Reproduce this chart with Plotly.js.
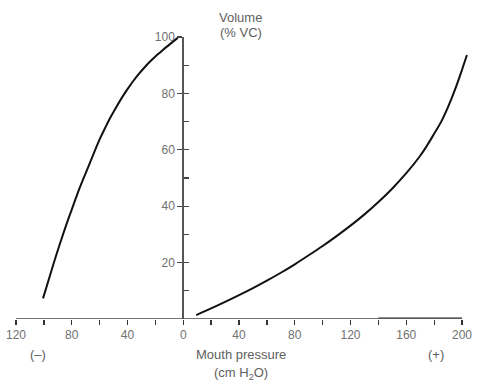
<!DOCTYPE html>
<html>
<head>
<meta charset="utf-8">
<script src="https://cdn.plot.ly/plotly-3.0.1.min.js"></script>
<style>html,body{margin:0;padding:0;background:#fff;}#chart{width:500px;height:384px;}</style>
</head>
<body>
<div id="chart"></div>
<script>
// Left curve: negative mouth pressure (cm H2O), volume (% VC)
var negPressure = [-100.6, -96, -92, -88, -84, -80, -76, -72, -68, -64, -60, -56, -52, -48, -44, -40, -36, -32, -28, -24, -20, -16, -12, -8, -4];
var negVolume   = [7.3, 14.8, 21.3, 27.4, 33.3, 38.8, 44.3, 49.3, 54.1, 59.0, 63.7, 67.8, 71.7, 75.2, 78.5, 81.5, 84.3, 86.8, 89.1, 91.2, 93.1, 94.8, 96.5, 98.1, 99.7];
// Right curve: positive mouth pressure, volume (% VC)
var posPressure = [9.3, 20, 30, 40, 50, 60, 70, 80, 90, 100, 110, 120, 130, 140, 150, 160, 170, 175, 180, 185, 190, 195, 200, 203.5];
var posVolume   = [1.4, 3.75, 6.05, 8.45, 10.95, 13.6, 16.4, 19.4, 22.6, 25.9, 29.4, 33.1, 37.1, 41.5, 46.3, 51.7, 57.9, 61.6, 65.7, 69.9, 75.2, 81.4, 88.4, 93.6];
// Short segment drawn along the axis at high positive pressure
var segPressure = [140, 200];
var segVolume   = [0.35, 0.35];

var xTickVals = [-120, -80, -40, 0, 40, 80, 120, 160, 200];
var xTickText = ['120', '80', '40', '0', '40', '80', '120', '160', '200'];
var xMinorVals = [-100, -60, -20, 20, 60, 100, 140, 180];
var yTickVals = [20, 40, 60, 80, 100];
var yTickText = ['20', '40', '60', '80', '100'];

var traces = [
  {x: negPressure, y: negVolume, mode: 'lines', line: {color: '#111', width: 2, shape: 'spline', smoothing: 1}, hoverinfo: 'skip'},
  {x: posPressure, y: posVolume, mode: 'lines', line: {color: '#111', width: 2, shape: 'spline', smoothing: 1}, hoverinfo: 'skip'},
  {x: segPressure, y: segVolume, mode: 'lines', line: {color: '#222', width: 1.2}, cliponaxis: false, hoverinfo: 'skip'},
  {x: [0], y: [0], yaxis: 'y2', mode: 'markers', marker: {opacity: 0}, hoverinfo: 'skip'}
];

var fam = 'Liberation Sans, Arial, sans-serif';
var tickFont = {family: fam, size: 12, color: '#707070'};
var textFont = {family: fam, size: 13, color: '#606060'};
var xMin = -120, xMax = 205;
var yPos = (0 - xMin) / (xMax - xMin);
var layout = {
  width: 500, height: 384,
  margin: {l: 16, r: 31, t: 37, b: 65},
  paper_bgcolor: '#fff', plot_bgcolor: '#fff',
  showlegend: false,
  font: tickFont,
  xaxis: {
    range: [xMin, xMax], showgrid: false, zeroline: false,
    showline: false,
    tickmode: 'array', tickvals: xTickVals, ticktext: xTickText,
    ticks: 'outside', ticklen: 5, tickcolor: '#333', tickwidth: 1.3,
    minor: {tickmode: 'array', tickvals: xMinorVals, ticks: 'outside', ticklen: 5, tickcolor: '#333', tickwidth: 1.3},
    tickfont: tickFont, fixedrange: true
  },
  yaxis: {
    range: [0, 100], anchor: 'free', position: yPos, showgrid: false, zeroline: false,
    showline: true, linecolor: '#555', linewidth: 2,
    tickmode: 'array', tickvals: yTickVals, ticktext: yTickText,
    ticks: 'outside', ticklen: 5, tickcolor: '#444', tickwidth: 1.3,
    tickfont: tickFont, fixedrange: true
  },
  yaxis2: {
    range: [0, 100], overlaying: 'y', anchor: 'free', position: yPos, showgrid: false, zeroline: false,
    showline: false, showticklabels: false,
    tickmode: 'linear', tick0: 0, dtick: 10,
    ticks: 'inside', ticklen: 5, tickcolor: '#444', tickwidth: 1.3, fixedrange: true
  },
  shapes: [
    {type: 'line', xref: 'x', yref: 'y', x0: xMin, x1: 200, y0: 0, y1: 0, line: {color: '#444', width: 1.3}}
  ],
  annotations: [
    {text: 'Volume', xref: 'paper', yref: 'paper', x: 0.5, y: 1, xanchor: 'center', yanchor: 'middle', yshift: 20, xshift: -2, showarrow: false, font: textFont},
    {text: '(% VC)', xref: 'paper', yref: 'paper', x: 0.5, y: 1, xanchor: 'center', yanchor: 'middle', yshift: 5, xshift: -2, showarrow: false, font: textFont},
    {text: 'Mouth pressure', xref: 'paper', yref: 'paper', x: 0.5, y: 0, xanchor: 'center', yanchor: 'middle', yshift: -35, xshift: -2, showarrow: false, font: textFont},
    {text: '(cm H<sub>2</sub>O)', xref: 'paper', yref: 'paper', x: 0.5, y: 0, xanchor: 'center', yanchor: 'middle', yshift: -54, xshift: -2, showarrow: false, font: textFont},
    {text: '(\u2013)', xref: 'paper', yref: 'paper', x: 0.049, y: 0, xanchor: 'center', yanchor: 'middle', yshift: -35, showarrow: false, font: textFont},
    {text: '(+)', xref: 'paper', yref: 'paper', x: 0.927, y: 0, xanchor: 'center', yanchor: 'middle', yshift: -35, showarrow: false, font: textFont}
  ]
};
Plotly.newPlot('chart', traces, layout, {displayModeBar: false, staticPlot: true});
</script>
</body>
</html>
